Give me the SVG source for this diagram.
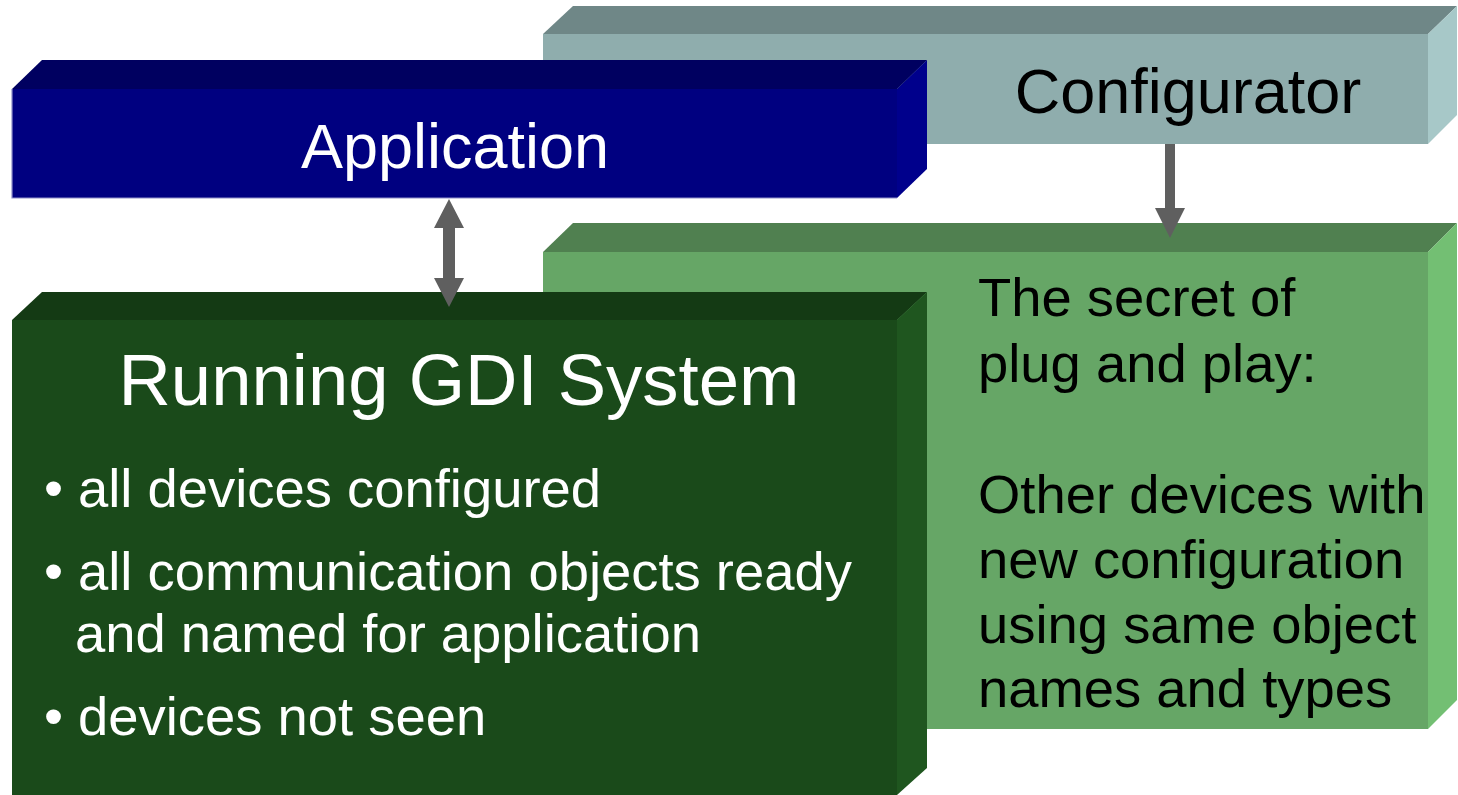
<svg xmlns="http://www.w3.org/2000/svg" width="1458" height="795" viewBox="0 0 1458 795">
<style>
text{font-family:"Liberation Sans",Arial,sans-serif}
.w{fill:#fff}
.k{fill:#000}
.title{font-size:63px}
.body{font-size:54.4px}
.big{font-size:72.5px}
</style>
<rect width="1458" height="795" fill="#fff"/>
<g id="configurator">
<polygon points="543,34 573,6 1457,6 1428,34" fill="#6f8787"/>
<polygon points="1428,34 1457,6 1457,115 1428,144" fill="#a7c8c8"/>
<rect x="543" y="34" width="885" height="110" fill="#8fadad"/>
<text x="1188" y="113" class="title k" text-anchor="middle">Configurator</text>
</g>
<g id="application">
<polygon points="12,89 42,60 927,60 897,89" fill="#000060"/>
<polygon points="897,89 927,60 927,169 897,198" fill="#00008c"/>
<rect x="12" y="89" width="885" height="109" fill="#000080"/>
<path d="M12,89 V198 H897" fill="none" stroke="#9090c8" stroke-width="1.2"/>
<text x="455" y="168" class="title w" text-anchor="middle">Application</text>
</g>
<g id="plugplay">
<polygon points="543,252 573,223 1457,223 1428,252" fill="#508050"/>
<polygon points="1428,252 1457,223 1457,700 1428,729" fill="#73bf73"/>
<rect x="543" y="252" width="885" height="477" fill="#66a666"/>
<text class="body k">
<tspan x="978" y="316">The secret of</tspan>
<tspan x="978" y="382">plug and play:</tspan>
<tspan x="978" y="513">Other devices with</tspan>
<tspan x="978" y="578">new configuration</tspan>
<tspan x="978" y="643">using same object</tspan>
<tspan x="978" y="707">names and types</tspan>
</text>
</g>
<g id="running">
<polygon points="12,320 42,292 927,292 897,320" fill="#143a14"/>
<polygon points="897,320 927,292 927,768 897,795" fill="#1f561f"/>
<rect x="12" y="320" width="885" height="475" fill="#1a4a1a"/>
<text x="459" y="405" class="big w" text-anchor="middle">Running GDI System</text>
<text class="body w">
<tspan x="44" y="507">•</tspan><tspan x="78" y="507">all devices configured</tspan>
<tspan x="44" y="590">•</tspan><tspan x="78" y="590">all communication objects ready</tspan>
<tspan x="75" y="652">and named for application</tspan>
<tspan x="44" y="735">•</tspan><tspan x="78" y="735">devices not seen</tspan>
</text>
</g>
<g id="connectors" fill="#5f5f5f">
<polygon points="449,199 464,228 455,228 455,278 464,278 449,307 434,278 443,278 443,228 434,228"/>
<polygon points="1165,144 1175,144 1175,208 1185,208 1170,238 1155,208 1165,208"/>
</g>
</svg>
